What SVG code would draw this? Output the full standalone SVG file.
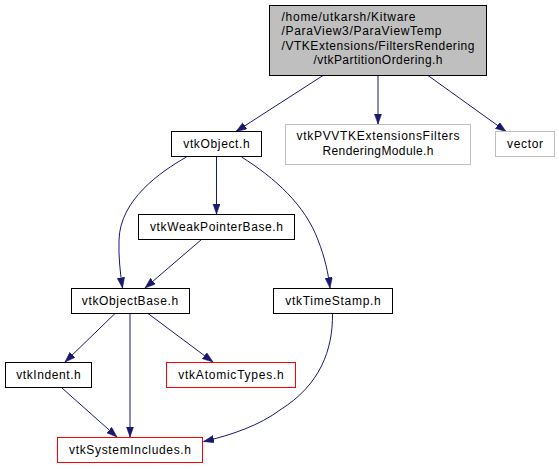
<svg xmlns="http://www.w3.org/2000/svg" width="559" height="469" viewBox="0 0 559 469">
<style>
  .n rect { fill: #ffffff; stroke: #000000; stroke-width: 1; }
  .n.gray rect { stroke: #bfbfbf; }
  .n.red rect { stroke: #ff0000; }
  .n.root rect { fill: #bfbfbf; stroke: #000000; }
  text { font-family: "Liberation Sans", Arial, Helvetica, sans-serif; font-size: 12px; fill: #000000; }
  .c { text-anchor: middle; }
  .e { fill: none; stroke: #191970; stroke-width: 1; marker-end: url(#ah); }
</style>
<defs>
  <marker id="ah" markerUnits="userSpaceOnUse" markerWidth="11" markerHeight="8" refX="10.5" refY="3.75" orient="auto">
    <path d="M0,0 L10.5,3.75 L0,7.5 z" fill="#191970" stroke="#191970" stroke-width="0.5"/>
  </marker>
</defs>
<rect width="559" height="469" fill="#ffffff"/>
<g id="edges">
  <path class="e" d="M323,75.5 L236,131.5"/>
  <path class="e" d="M378,75.5 L378,124"/>
  <path class="e" d="M428,75.5 L506,131.5"/>
  <path class="e" d="M186.5,157 C160,172 120,200 119,240 C118.5,256 120,272 122.5,288"/>
  <path class="e" d="M216.5,157 L216.5,214"/>
  <path class="e" d="M241.5,157 C275,178 305,205 318,240 C325,258 328,272 330,288"/>
  <path class="e" d="M201.5,239.5 L145,288"/>
  <path class="e" d="M115,313.5 L65,362"/>
  <path class="e" d="M130,313.5 L130,437"/>
  <path class="e" d="M148,313.5 L213,362"/>
  <path class="e" d="M62,388 L117,437"/>
  <path class="e" d="M332.5,313.5 C333,350 320,385 280,410 C260,425 232,435 203.5,441.5"/>
</g>
<g id="node-root" class="n root">
  <rect x="269.5" y="5.5" width="217" height="70"/>
  <text x="281.5" y="20.5" textLength="134" lengthAdjust="spacing">/home/utkarsh/Kitware</text>
  <text x="281.5" y="35" textLength="160" lengthAdjust="spacing">/ParaView3/ParaViewTemp</text>
  <text x="281.5" y="49.5" textLength="193" lengthAdjust="spacing">/VTKExtensions/FiltersRendering</text>
  <text class="c" x="378" y="64" textLength="129" lengthAdjust="spacing">/vtkPartitionOrdering.h</text>
</g>
<g id="node-vtkObject" class="n">
  <rect x="171.5" y="131.5" width="90" height="25"/>
  <text class="c" x="216.5" y="148" textLength="66.5" lengthAdjust="spacing">vtkObject.h</text>
</g>
<g id="node-module" class="n gray">
  <rect x="285.5" y="124.5" width="185" height="40"/>
  <text class="c" x="378" y="140" textLength="163" lengthAdjust="spacing">vtkPVVTKExtensionsFilters</text>
  <text class="c" x="378" y="154.5" textLength="111" lengthAdjust="spacing">RenderingModule.h</text>
</g>
<g id="node-vector" class="n gray">
  <rect x="495.5" y="131.5" width="59" height="25"/>
  <text class="c" x="525" y="148" textLength="36" lengthAdjust="spacing">vector</text>
</g>
<g id="node-vtkWeakPointerBase" class="n">
  <rect x="138.5" y="214.5" width="156" height="25"/>
  <text class="c" x="216.5" y="231" textLength="133" lengthAdjust="spacing">vtkWeakPointerBase.h</text>
</g>
<g id="node-vtkObjectBase" class="n">
  <rect x="71.5" y="288.5" width="118" height="25"/>
  <text class="c" x="130" y="305" textLength="96.5" lengthAdjust="spacing">vtkObjectBase.h</text>
</g>
<g id="node-vtkTimeStamp" class="n">
  <rect x="273.5" y="288.5" width="119" height="25"/>
  <text class="c" x="333" y="305" textLength="95.5" lengthAdjust="spacing">vtkTimeStamp.h</text>
</g>
<g id="node-vtkIndent" class="n">
  <rect x="5.5" y="362.5" width="86" height="25"/>
  <text class="c" x="48.5" y="379" textLength="64.5" lengthAdjust="spacing">vtkIndent.h</text>
</g>
<g id="node-vtkAtomicTypes" class="n red">
  <rect x="166.5" y="362.5" width="129" height="25"/>
  <text class="c" x="231" y="379" textLength="105.5" lengthAdjust="spacing">vtkAtomicTypes.h</text>
</g>
<g id="node-vtkSystemIncludes" class="n red">
  <rect x="57.5" y="437.5" width="145" height="25"/>
  <text class="c" x="130" y="454" textLength="122" lengthAdjust="spacing">vtkSystemIncludes.h</text>
</g>
</svg>
